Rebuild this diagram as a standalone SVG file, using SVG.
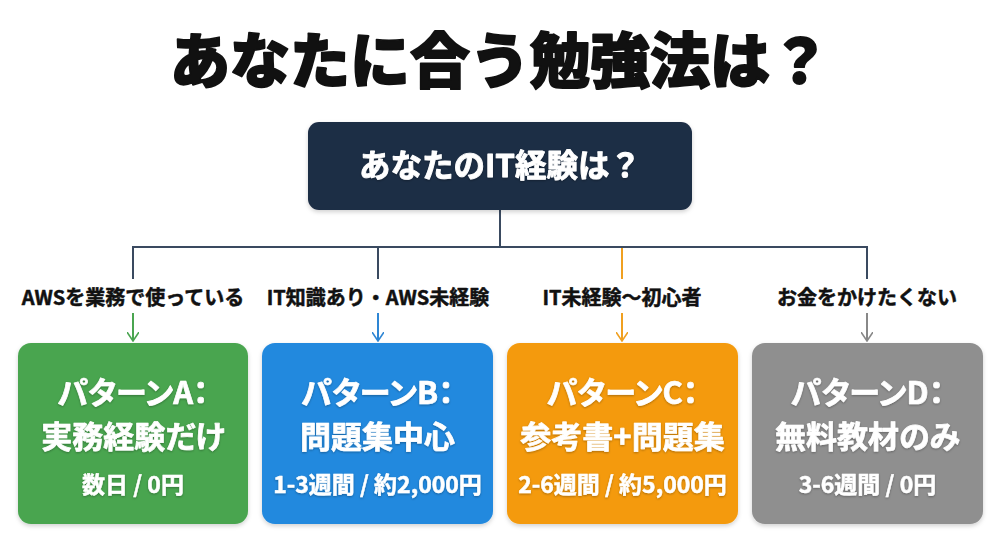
<svg xmlns="http://www.w3.org/2000/svg" width="1000" height="558" viewBox="0 0 1000 558">
<defs>
<style>
text{font-family:"Noto Sans CJK JP","Noto Sans",sans-serif;font-weight:700;text-anchor:middle;stroke-linejoin:round}
.title{font-size:60px;font-weight:900;fill:#111;stroke:#111;stroke-width:1.8}
.q{font-size:31.5px;fill:#fff;stroke:#fff;stroke-width:0.9}
.lbl{font-size:20px;fill:#111;stroke:#111;stroke-width:0.5}
.h{font-size:31px;fill:#fff;stroke:#fff;stroke-width:0.7;font-feature-settings:"palt"}
.s{font-size:23px;fill:#fff;stroke:#fff;stroke-width:0.5}
.ln{fill:none;stroke-width:2}
</style>
<filter id="sh" x="-10%" y="-10%" width="120%" height="130%">
<feDropShadow dx="0" dy="2" stdDeviation="2" flood-color="#000" flood-opacity="0.18"/>
</filter>
<filter id="ts" x="-10%" y="-20%" width="120%" height="150%">
<feDropShadow dx="0" dy="1" stdDeviation="1.2" flood-color="#000" flood-opacity="0.3"/>
</filter>
<marker id="ag" viewBox="0 0 12 10" refX="6" refY="9" markerWidth="12" markerHeight="10" markerUnits="userSpaceOnUse"><path d="M0,0 L6,9 L12,0" fill="none" stroke="#4aa550" stroke-width="1.6"/></marker>
<marker id="ab" viewBox="0 0 12 10" refX="6" refY="9" markerWidth="12" markerHeight="10" markerUnits="userSpaceOnUse"><path d="M0,0 L6,9 L12,0" fill="none" stroke="#2e86d4" stroke-width="1.6"/></marker>
<marker id="ao" viewBox="0 0 12 10" refX="6" refY="9" markerWidth="12" markerHeight="10" markerUnits="userSpaceOnUse"><path d="M0,0 L6,9 L12,0" fill="none" stroke="#f0a020" stroke-width="1.6"/></marker>
<marker id="ay" viewBox="0 0 12 10" refX="6" refY="9" markerWidth="12" markerHeight="10" markerUnits="userSpaceOnUse"><path d="M0,0 L6,9 L12,0" fill="none" stroke="#888" stroke-width="1.6"/></marker>
</defs>
<rect width="1000" height="558" fill="#fff"/>
<text class="title" x="500" y="83">あなたに合う勉強法は？</text>

<g id="connectors">
<path class="ln" stroke="#3a4a60" d="M500,210 V247 M133,279 V247 H867 V279 M378,247 V279"/>
<path class="ln" stroke="#f0a020" d="M622,248 V279"/>
<line class="ln" stroke="#4aa550" x1="133" y1="313" x2="133" y2="341" marker-end="url(#ag)"/>
<line class="ln" stroke="#2e86d4" x1="378" y1="313" x2="378" y2="341" marker-end="url(#ab)"/>
<line class="ln" stroke="#f0a020" x1="622" y1="313" x2="622" y2="341" marker-end="url(#ao)"/>
<line class="ln" stroke="#888" x1="867" y1="313" x2="867" y2="341" marker-end="url(#ay)"/>
<text class="lbl" x="133" y="305">AWSを業務で使っている</text>
<text class="lbl" x="378" y="305">IT知識あり・AWS未経験</text>
<text class="lbl" x="622" y="305">IT未経験〜初心者</text>
<text class="lbl" x="867" y="305">お金をかけたくない</text>
</g>

<g id="root">
<rect x="308" y="122" width="384" height="88" rx="11" fill="#1f2d45" filter="url(#sh)"/>
<text class="q" x="500" y="177" filter="url(#ts)">あなたのIT経験は？</text>
</g>

<g id="patternA">
<rect x="18" y="343" width="230" height="181" rx="13" fill="#4aa550" filter="url(#sh)"/>
<g filter="url(#ts)">
<text class="h" x="133" y="404">パターンA：</text>
<text class="h" x="133" y="448">実務経験だけ</text>
<text class="s" x="133" y="493">数日 / 0円</text>
</g>
</g>

<g id="patternB">
<rect x="262" y="343" width="231" height="181" rx="13" fill="#2389de" filter="url(#sh)"/>
<g filter="url(#ts)">
<text class="h" x="377.5" y="404">パターンB：</text>
<text class="h" x="377.5" y="448">問題集中心</text>
<text class="s" x="377.5" y="493">1-3週間 / 約2,000円</text>
</g>
</g>

<g id="patternC">
<rect x="507" y="343" width="231" height="181" rx="13" fill="#f49a0c" filter="url(#sh)"/>
<g filter="url(#ts)">
<text class="h" x="622.5" y="404">パターンC：</text>
<text class="h" x="622.5" y="448">参考書+問題集</text>
<text class="s" x="622.5" y="493">2-6週間 / 約5,000円</text>
</g>
</g>

<g id="patternD">
<rect x="752" y="343" width="231" height="181" rx="13" fill="#8f8f8f" filter="url(#sh)"/>
<g filter="url(#ts)">
<text class="h" x="867.5" y="404">パターンD：</text>
<text class="h" x="867.5" y="448">無料教材のみ</text>
<text class="s" x="867.5" y="493">3-6週間 / 0円</text>
</g>
</g>
</svg>
